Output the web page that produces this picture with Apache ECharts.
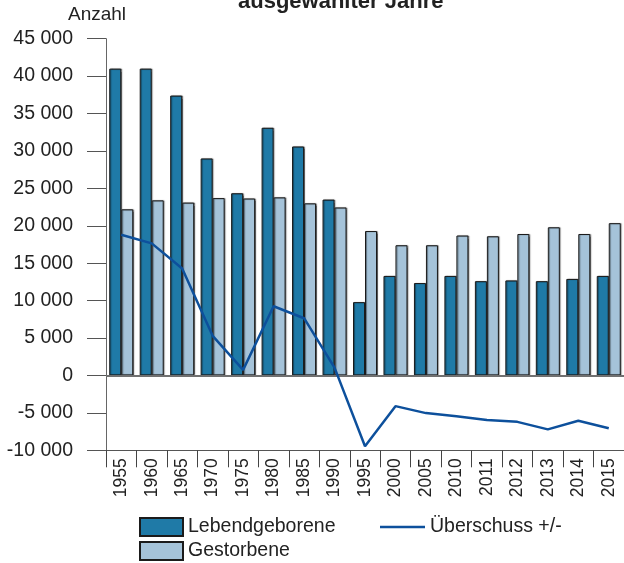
<!DOCTYPE html>
<html>
<head>
<meta charset="utf-8">
<script src="https://cdn.jsdelivr.net/npm/echarts@6/dist/echarts.min.js"></script>
<style>
html,body{margin:0;padding:0;background:#fff;}
#chart{width:624px;height:563px;}
</style>
</head>
<body>
<div id="chart"></div>
<script>
const categories = ['1955','1960','1965','1970','1975','1980','1985','1990','1995','2000','2005','2010','2011','2012','2013','2014','2015'];
const lebendgeborene = [41000, 41000, 37400, 29000, 24350, 33100, 30600, 23500, 9800, 13300, 12350, 13300, 12600, 12700, 12600, 12900, 13300];
const gestorbene = [22200, 23400, 23100, 23700, 23650, 23800, 23000, 22450, 19300, 17400, 17400, 18700, 18600, 18900, 19800, 18900, 20350];
const ueberschuss = [18800, 17650, 14300, 5300, 750, 9250, 7650, 1050, -9450, -4100, -5030, -5450, -5950, -6200, -7200, -6050, -7050];
const yTicks = { min: -10000, max: 45000, interval: 5000 };
const titleText = 'ausgewählter Jahre';
const yName = 'Anzahl';

const FONT = '"Liberation Sans", Arial, sans-serif';
const chart = echarts.init(document.getElementById('chart'));

function fmt(v) {
  const s = Math.abs(v).toString().replace(/\B(?=(\d{3})+(?!\d))/g, ' ');
  return (v < 0 ? '-' : '') + s;
}

const barBase = {
  type: 'bar',
  barWidth: 12,
  barGap: '0%',
  animation: false
};

chart.setOption({
  animation: false,
  textStyle: { fontFamily: FONT, color: '#222' },
  graphic: [
    { type: 'text', left: 238, top: -9, style: { text: titleText, font: 'bold 22px ' + FONT, fill: '#222' } },
    { type: 'text', left: 68, top: 5, style: { text: yName, font: '19px ' + FONT, fill: '#222' } }
  ],
  grid: { left: 106, top: 38.7, width: 519.5, height: 411.6, containLabel: false },
  legend: [
    {
      left: 139, top: 517, orient: 'vertical', itemWidth: 43, itemHeight: 18, itemGap: 4,
      icon: 'rect',
      data: ['Lebendgeborene', 'Gestorbene'],
      textStyle: { fontSize: 19.5, fontFamily: FONT, color: '#222', padding: [0, 0, 0, 0] },
      padding: 0
    },
    {
      left: 380, top: 517, orient: 'horizontal', itemWidth: 45, itemHeight: 18,
      data: [{ name: 'Überschuss +/-', icon: 'path://M0,8 L45,8 L45,10.5 L0,10.5 Z' }],
      itemStyle: { color: '#0d509c', borderWidth: 0 },
      textStyle: { fontSize: 19.5, fontFamily: FONT, color: '#222' },
      padding: 0
    }
  ],
  xAxis: {
    type: 'category',
    data: categories,
    boundaryGap: true,
    axisLine: { onZero: false, lineStyle: { color: '#555', width: 1 } },
    axisTick: { show: true, length: 17, lineStyle: { color: '#444' } },
    axisLabel: { rotate: 90, fontSize: 17.5, fontFamily: FONT, color: '#222', margin: 8, interval: 0 }
  },
  yAxis: {
    type: 'value',
    min: yTicks.min, max: yTicks.max, interval: yTicks.interval,
    splitLine: { show: false },
    axisLine: { show: true, lineStyle: { color: '#666', width: 1 } },
    axisTick: { show: true, length: 19, lineStyle: { color: '#555' } },
    axisLabel: { fontSize: 19.5, fontFamily: FONT, color: '#222', margin: 33, formatter: fmt }
  },
  series: [
    Object.assign({}, barBase, {
      name: 'Lebendgeborene',
      data: lebendgeborene,
      itemStyle: { color: '#1f7aa7', borderColor: '#1b1b1b', borderWidth: 1, shadowColor: 'rgba(0,0,0,0.45)', shadowOffsetX: 1, shadowOffsetY: 0, shadowBlur: 1 },
      markLine: {
        silent: true, symbol: 'none', label: { show: false },
        lineStyle: { color: '#707070', width: 2, type: 'solid' },
        data: [{ yAxis: 0 }]
      }
    }),
    Object.assign({}, barBase, {
      name: 'Gestorbene',
      data: gestorbene,
      itemStyle: { color: '#a5c3d9', borderColor: '#1b1b1b', borderWidth: 1, shadowColor: 'rgba(0,0,0,0.45)', shadowOffsetX: 1, shadowOffsetY: 0, shadowBlur: 1 }
    }),
    {
      name: 'Überschuss +/-',
      type: 'line',
      data: ueberschuss,
      symbol: 'none',
      z: 5,
      lineStyle: { color: '#0d509c', width: 2.5 },
      itemStyle: { color: '#0d509c' }
    }
  ]
});
</script>
</body>
</html>
